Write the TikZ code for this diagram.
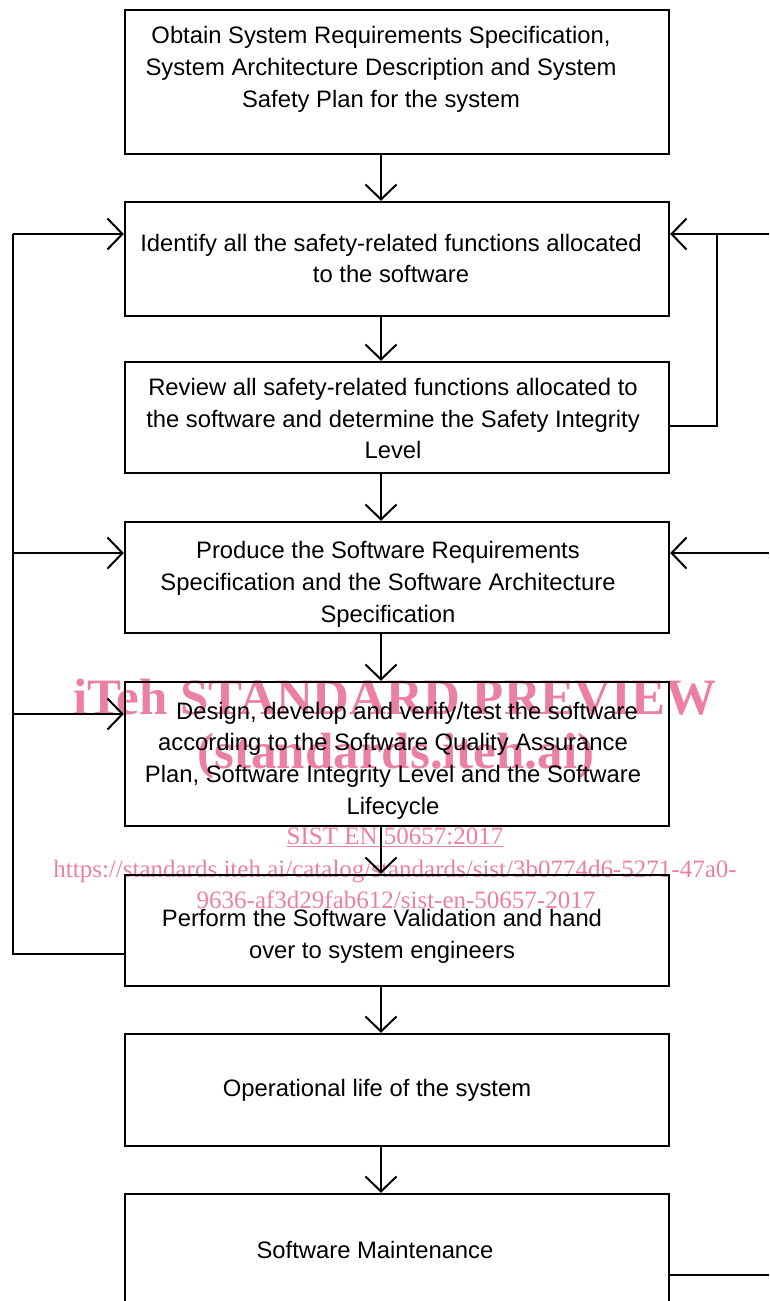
\documentclass[tikz,border=0pt]{standalone}
\usepackage{fontspec}
\setmainfont{Liberation Sans}
\newfontfamily\wmfont{Liberation Serif}
\usetikzlibrary{arrows.meta}

\definecolor{wmpink}{RGB}{236,128,163}

\tikzset{
	box/.style={draw, line width=2.3pt, minimum width=544pt, inner sep=0pt},
	boxtext/.style={inner sep=0pt, align=center, font=\fontsize{23.8}{31.7}\selectfont},
	flow/.style={line width=2pt, -{Straight Barb[length=15pt,width=31pt]}},
	wire/.style={line width=2pt},
	wmbig/.style={text=wmpink, font=\wmfont\bfseries\fontsize{51}{51}\selectfont, inner sep=0pt, anchor=base},
	wmsmall/.style={text=wmpink, font=\wmfont\fontsize{25}{31}\selectfont, inner sep=0pt, anchor=base}
}

\begin{document}
\begin{tikzpicture}[x=1pt, y=-1pt, line join=miter]
	\def\cx{397}   % centre of the boxes
	\def\lx{13}    % left return line
	\def\rx{717}   % right return line
	\def\ex{769}   % right page edge

\useasboundingbox (0,0) rectangle (769,1301);

% watermark (under the chart)
\node[wmbig] (wmtitle) at (395,714) {iTeh STANDARD PREVIEW};
\node[wmbig] (wmsite) at (396,768) {(standards.iteh.ai)};
\node[wmsmall] (wmcode) at (395,844) {\underline{SIST EN 50657:2017}};
\node[wmsmall] (wmurl) at (395,877) {https://standards.iteh.ai/catalog/standards/sist/3b0774d6-5271-47a0-};
\node[wmsmall] (wmurltwo) at (396,908) {9636-af3d29fab612/sist-en-50657-2017};

\coordinate (ax) at (381,0);
\coordinate (lft) at (\lx,0);
\coordinate (rgt) at (\rx,0);
\coordinate (edge) at (\ex,0);

% boxes
\node[box, minimum height=144pt] (obtain) at (\cx,82) {};
\node[box, minimum height=114pt] (identify) at (\cx,259) {};
\node[box, minimum height=111pt] (review) at (\cx,417.5) {};
\node[box, minimum height=111pt] (produce) at (\cx,577.5) {};
\node[box, minimum height=144pt] (design) at (\cx,754) {};
\node[box, minimum height=111pt] (perform) at (\cx,930.5) {};
\node[box, minimum height=112pt] (operate) at (\cx,1090) {};
\node[box, minimum height=112pt] (maintain) at (\cx,1250) {};

% texts
\node[boxtext] (obtaintext) at (381,69.5) {Obtain System Requirements Specification,\\System Architecture Description and System\\Safety Plan for the system};
\node[boxtext] (identifytext) at (391,258.5) {Identify all the safety-related functions allocated\\to the software};
\node[boxtext] (reviewtext) at (393,418.5) {Review all safety-related functions allocated to\\the software and determine the Safety Integrity\\Level};
\node[boxtext] (producetext) at (388,584.5) {Produce the Software Requirements\\Specification and the Software Architecture\\Specification};
\node[boxtext] (designtext) at (393,760.5) {\hspace*{28pt}Design, develop and verify/test the software\\according to the Software Quality Assurance\\Plan, Software Integrity Level and the Software\\Lifecycle};
\node[boxtext] (performtext) at (382,936) {Perform the Software Validation and hand\\over to system engineers};
\node[boxtext] (operatetext) at (377,1090) {Operational life of the system};
\node[boxtext] (maintaintext) at (375,1250) {Software Maintenance};

% down the middle
\draw[flow] (obtain.south -| ax) -- (identify.north -| ax);
\draw[flow] (identify.south -| ax) -- (review.north -| ax);
\draw[flow] (review.south -| ax) -- (produce.north -| ax);
\draw[flow] (produce.south -| ax) -- (design.north -| ax);
\draw[flow] (design.south -| ax) -- (perform.north -| ax);
\draw[flow] (perform.south -| ax) -- (operate.north -| ax);
\draw[flow] (operate.south -| ax) -- (maintain.north -| ax);

% left return
\draw[wire] ([yshift=-23.5pt]perform.west) -- ([yshift=-23.5pt]perform.west -| lft)
	-- ([yshift=25pt]identify.west -| lft);
\draw[flow] ([yshift=25pt]identify.west -| lft) -- ([yshift=25pt]identify.west);
\draw[flow] ([yshift=24.5pt]produce.west -| lft) -- ([yshift=24.5pt]produce.west);
\draw[flow] ([yshift=40pt]design.west -| lft) -- ([yshift=40pt]design.west);

% right return
\draw[wire] ([yshift=-8.5pt]review.east) -- ([yshift=-8.5pt]review.east -| rgt)
	-- ([yshift=25pt]identify.east -| rgt);
\draw[flow] ([yshift=25pt]identify.east -| edge) -- ([yshift=25pt]identify.east);
\draw[flow] ([yshift=24.5pt]produce.east -| edge) -- ([yshift=24.5pt]produce.east);
\draw[wire] ([yshift=-25pt]maintain.east) -- ([yshift=-25pt]maintain.east -| edge);

\end{tikzpicture}
\end{document}
